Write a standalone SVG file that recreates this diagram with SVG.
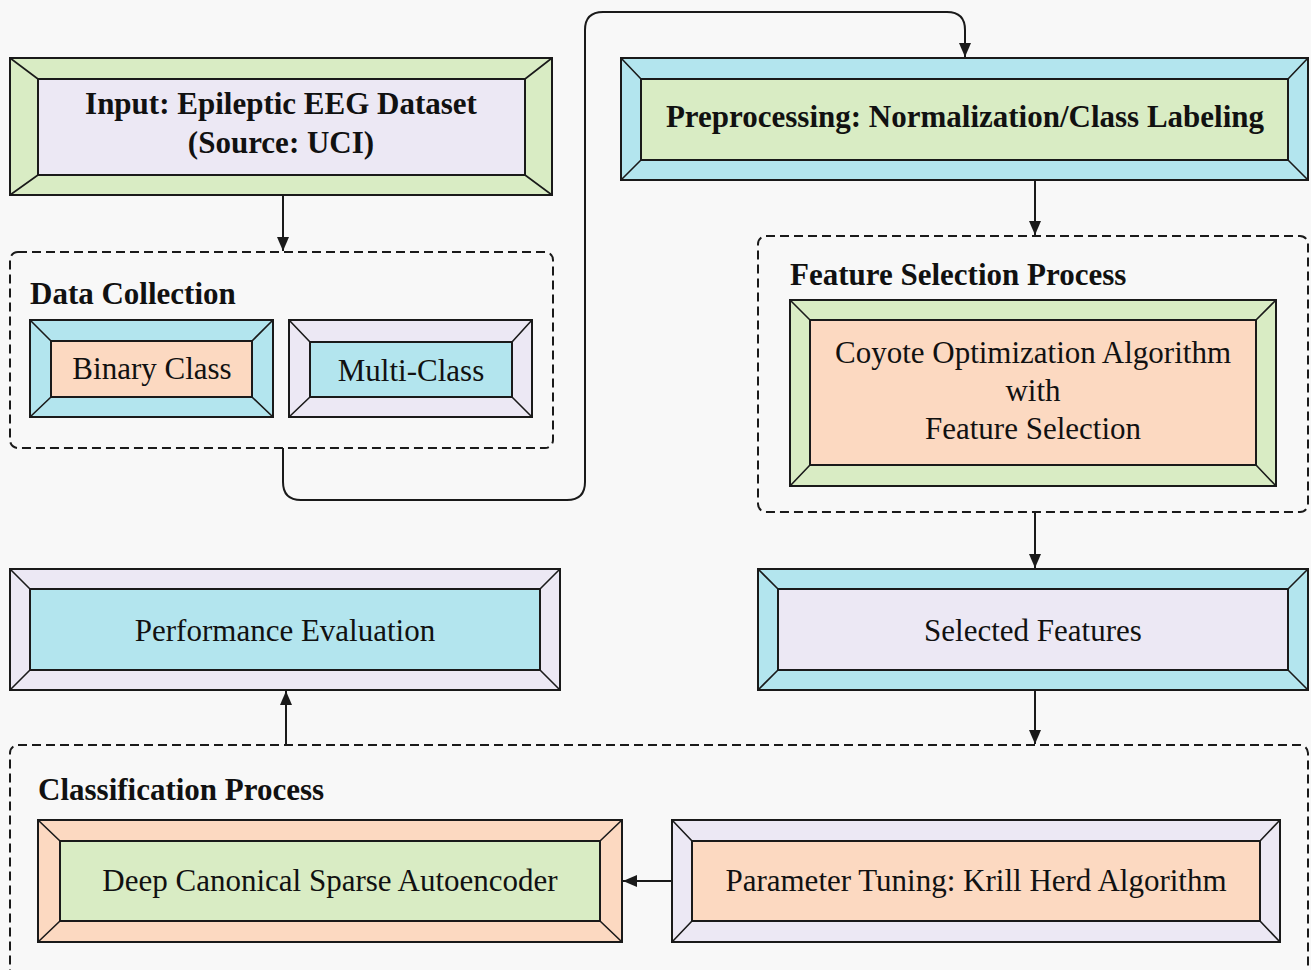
<svg xmlns="http://www.w3.org/2000/svg" width="1311" height="970" viewBox="0 0 1311 970">
<defs>
<style>
.o{stroke:#1a1a1a;stroke-width:2}
.d{stroke:#1a1a1a;stroke-width:1.6}
.grn{fill:#d9ecc4}.lav{fill:#ece8f4}.cy{fill:#b3e5ee}.pch{fill:#fcd9c1}
.t{font-family:"Liberation Serif","Times New Roman",serif;font-size:31px;fill:#111;text-anchor:middle}
.b{font-weight:bold}
.h{font-family:"Liberation Serif","Times New Roman",serif;font-size:31px;font-weight:bold;fill:#111}
.grp{fill:none;stroke:#1a1a1a;stroke-width:2;stroke-dasharray:9 5}
.c{fill:none;stroke:#1a1a1a;stroke-width:2}
</style>
<marker id="ah" viewBox="0 0 14 12" refX="14" refY="6" markerWidth="14" markerHeight="12" orient="auto-start-reverse" markerUnits="userSpaceOnUse">
<path d="M0,0 L14,6 L0,12 z" fill="#1a1a1a"/>
</marker>
</defs>
<rect x="0" y="0" width="1311" height="970" fill="#f8f8f8"/>

<g id="groups">
<rect class="grp" x="10" y="252" width="543" height="196" rx="8"/>
<rect class="grp" x="758" y="236" width="550" height="276" rx="8"/>
<rect class="grp" x="10" y="745" width="1298" height="235" rx="8"/>
<text class="h" x="30" y="304">Data Collection</text>
<text class="h" x="790" y="285">Feature Selection Process</text>
<text class="h" x="38" y="800">Classification Process</text>
</g>

<g id="input">
<rect class="o grn" x="10" y="58" width="542" height="137"/>
<rect class="o lav" x="38" y="79" width="487" height="96"/>
<path class="d" d="M10,58 L38,79 M552,58 L525,79 M10,195 L38,175 M552,195 L525,175"/>
<text class="t b" x="281" y="114">Input: Epileptic EEG Dataset</text>
<text class="t b" x="281" y="153">(Source: UCI)</text>
</g>

<g id="binary">
<rect class="o cy" x="30" y="320" width="243" height="97"/>
<rect class="o pch" x="51" y="341" width="201" height="56"/>
<path class="d" d="M30,320 L51,341 M273,320 L252,341 M30,417 L51,397 M273,417 L252,397"/>
<text class="t" x="152" y="379">Binary Class</text>
</g>

<g id="multi">
<rect class="o lav" x="289" y="320" width="243" height="97"/>
<rect class="o cy" x="310" y="342" width="202" height="55"/>
<path class="d" d="M289,320 L310,342 M532,320 L512,342 M289,417 L310,397 M532,417 L512,397"/>
<text class="t" x="411" y="381">Multi-Class</text>
</g>

<g id="preprocessing">
<rect class="o cy" x="621" y="58" width="687" height="122"/>
<rect class="o grn" x="641" y="79" width="647" height="81"/>
<path class="d" d="M621,58 L641,79 M1308,58 L1288,79 M621,180 L641,160 M1308,180 L1288,160"/>
<text class="t b" x="965" y="127">Preprocessing: Normalization/Class Labeling</text>
</g>

<g id="coyote">
<rect class="o grn" x="790" y="300" width="486" height="186"/>
<rect class="o pch" x="810" y="320" width="446" height="145"/>
<path class="d" d="M790,300 L810,320 M1276,300 L1256,320 M790,486 L810,465 M1276,486 L1256,465"/>
<text class="t" x="1033" y="363">Coyote Optimization Algorithm</text>
<text class="t" x="1033" y="401">with</text>
<text class="t" x="1033" y="439">Feature Selection</text>
</g>

<g id="selected">
<rect class="o cy" x="758" y="569" width="550" height="121"/>
<rect class="o lav" x="778" y="589" width="510" height="81"/>
<path class="d" d="M758,569 L778,589 M1308,569 L1288,589 M758,690 L778,670 M1308,690 L1288,670"/>
<text class="t" x="1033" y="641">Selected Features</text>
</g>

<g id="performance">
<rect class="o lav" x="10" y="569" width="550" height="121"/>
<rect class="o cy" x="30" y="589" width="510" height="81"/>
<path class="d" d="M10,569 L30,589 M560,569 L540,589 M10,690 L30,670 M560,690 L540,670"/>
<text class="t" x="285" y="641">Performance Evaluation</text>
</g>

<g id="dcsae">
<rect class="o pch" x="38" y="820" width="584" height="122"/>
<rect class="o grn" x="60" y="841" width="540" height="80"/>
<path class="d" d="M38,820 L60,841 M622,820 L600,841 M38,942 L60,921 M622,942 L600,921"/>
<text class="t" x="330" y="891">Deep Canonical Sparse Autoencoder</text>
</g>

<g id="krill">
<rect class="o lav" x="672" y="820" width="608" height="122"/>
<rect class="o pch" x="692" y="841" width="568" height="80"/>
<path class="d" d="M672,820 L692,841 M1280,820 L1260,841 M672,942 L692,921 M1280,942 L1260,921"/>
<text class="t" x="976" y="891">Parameter Tuning: Krill Herd Algorithm</text>
</g>

<g id="connectors">
<path class="c" d="M283,195 V251" marker-end="url(#ah)"/>
<path class="c" d="M283,448 V482 Q283,500 301,500 H567 Q585,500 585,482 V30 Q585,12 603,12 H947 Q965,12 965,30 V57" marker-end="url(#ah)"/>
<path class="c" d="M1035,180 V235" marker-end="url(#ah)"/>
<path class="c" d="M1035,512 V568" marker-end="url(#ah)"/>
<path class="c" d="M1035,690 V744" marker-end="url(#ah)"/>
<path class="c" d="M286,745 V691" marker-end="url(#ah)"/>
<path class="c" d="M672,881 H623" marker-end="url(#ah)"/>
</g>
</svg>
